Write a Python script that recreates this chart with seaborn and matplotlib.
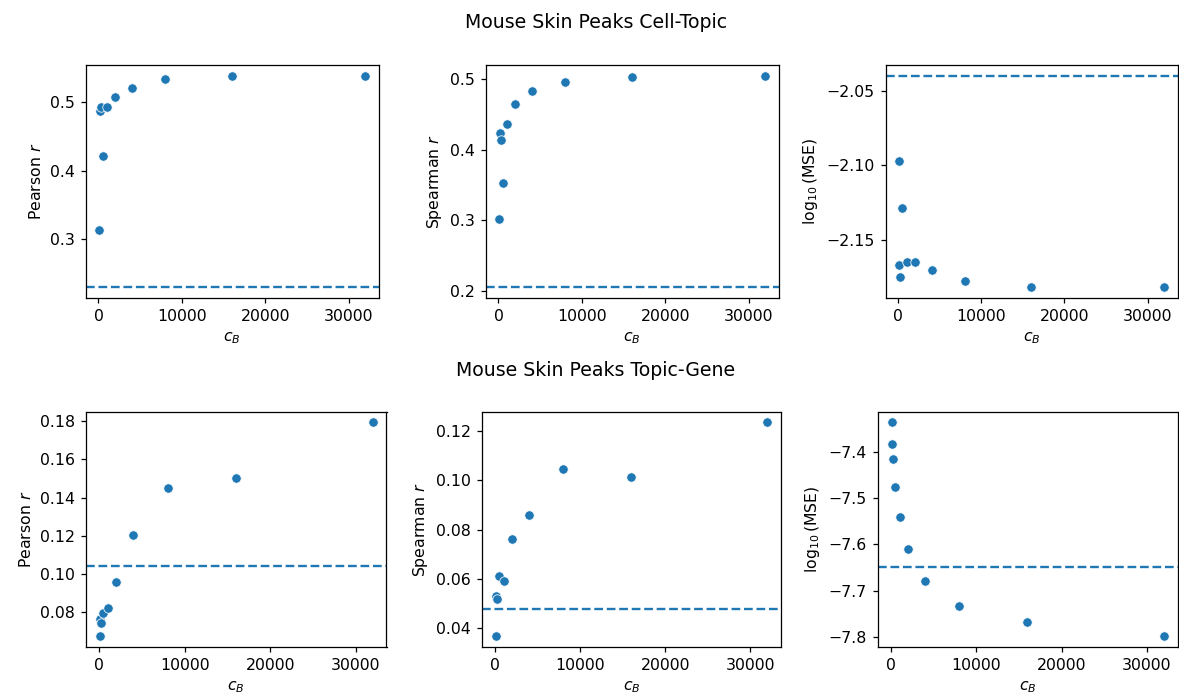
import matplotlib
matplotlib.use("Agg")
import matplotlib.pyplot as plt
from matplotlib.ticker import MultipleLocator
import seaborn as sns
import pandas as pd

# Batch-size parameter c_B (doubling sweep)
cb = [62.5, 125, 250, 500, 1000, 2000, 4000, 8000, 16000, 32000]

# Cell-topic reconstruction metrics
ct_pearson = [0.313, 0.487, 0.493, 0.421, 0.493, 0.507, 0.521, 0.534, 0.539, 0.539]
ct_spearman = [0.302, 0.424, 0.413, 0.352, 0.436, 0.465, 0.483, 0.496, 0.503, 0.505]
ct_logmse = [-2.097, -2.167, -2.175, -2.129, -2.165, -2.165, -2.1705, -2.178, -2.182, -2.182]
ct_baseline = [0.230, 0.205, -2.0397]

# Topic-gene reconstruction metrics
tg_pearson = [0.0675, 0.0764, 0.0745, 0.0793, 0.0820, 0.0956, 0.1205, 0.1450, 0.1505, 0.1795]
tg_spearman = [0.0368, 0.0531, 0.0518, 0.0612, 0.0592, 0.0762, 0.0861, 0.1047, 0.1012, 0.1236]
tg_logmse = [-7.3355, -7.3826, -7.4144, -7.4767, -7.5413, -7.6096, -7.6797, -7.7341, -7.7667, -7.798]
tg_baseline = [0.1043, 0.0479, -7.649]

ylabels = ["Pearson $r$", "Spearman $r$", r"$\log_{10}$(MSE)"]
row_titles = ["Mouse Skin Peaks Cell-Topic", "Mouse Skin Peaks Topic-Gene"]

DPI = 113
W, H = 1179, 695
fig = plt.figure(figsize=(W / DPI, H / DPI), dpi=DPI)


def rect(left, top, right, bottom):
    return [left / W, 1 - bottom / H, (right - left) / W, (bottom - top) / H]


row_rects = [
    [rect(85.7, 65, 378.7, 297.7), rect(485.7, 65, 778.7, 297.7), rect(885.5, 65, 1177.5, 297.7)],
    [rect(86, 411.5, 386.5, 646.7), rect(482, 411.5, 781, 646.7), rect(878, 411.5, 1177.5, 646.7)],
]
row_data = [
    ([ct_pearson, ct_spearman, ct_logmse], ct_baseline),
    ([tg_pearson, tg_spearman, tg_logmse], tg_baseline),
]
# y tick spacing for the top row (bottom row keeps automatic ticks)
top_row_steps = [0.1, 0.1, 0.05]
title_y = [22, 371]

for r, ((series, baselines), rects) in enumerate(zip(row_data, row_rects)):
    for c in range(3):
        ax = fig.add_axes(rects[c])
        df = pd.DataFrame({"cb": cb, "value": series[c]})
        sns.scatterplot(data=df, x="cb", y="value", ax=ax, color="C0")
        ax.axhline(baselines[c], ls="--", color="C0")
        ax.set_xlabel("$c_B$")
        ax.set_ylabel(ylabels[c])
        if r == 0:
            ax.yaxis.set_major_locator(MultipleLocator(top_row_steps[c]))
    fig.text(596 / W, 1 - title_y[r] / H, row_titles[r], ha="center", va="center", fontsize=12)

fig.savefig("out.png", dpi=DPI)
